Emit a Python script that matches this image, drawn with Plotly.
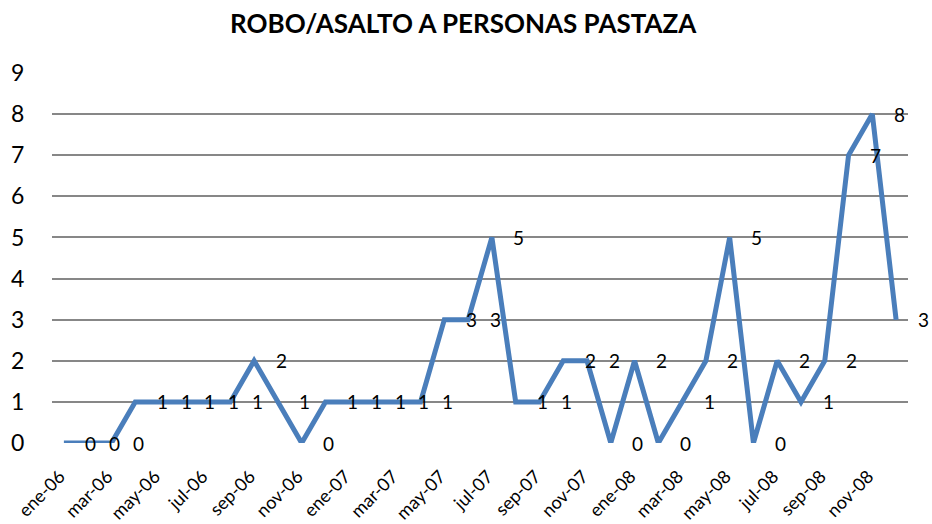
import plotly.graph_objects as go

# Monthly cases, January 2006 through December 2008
months = [
    "ene-06", "feb-06", "mar-06", "abr-06", "may-06", "jun-06",
    "jul-06", "ago-06", "sep-06", "oct-06", "nov-06", "dic-06",
    "ene-07", "feb-07", "mar-07", "abr-07", "may-07", "jun-07",
    "jul-07", "ago-07", "sep-07", "oct-07", "nov-07", "dic-07",
    "ene-08", "feb-08", "mar-08", "abr-08", "may-08", "jun-08",
    "jul-08", "ago-08", "sep-08", "oct-08", "nov-08", "dic-08",
]
cases = [0, 0, 0, 1, 1, 1, 1, 1, 2, 1, 0, 1,
         1, 1, 1, 1, 3, 3, 5, 1, 1, 2, 2, 0,
         2, 0, 1, 2, 5, 0, 2, 1, 2, 7, 8, 3]
y_ticks = list(range(0, 10))
x_ticks = months[::2]

FONT = "Lato, 'Open Sans', sans-serif"
LINE_BLUE = "#4A7EBB"
GRID = "#878787"

fig = go.Figure()
fig.add_trace(go.Scatter(
    x=months, y=cases, mode="lines",
    line=dict(color=LINE_BLUE, width=5),
    hoverinfo="x+y", showlegend=False,
))

# value labels placed to the right of each point
for m, v in zip(months, cases):
    fig.add_annotation(
        x=m, y=v, text=str(v), showarrow=False,
        xanchor="center", yanchor="middle", xshift=27,
        font=dict(family=FONT, size=19, color="#000000"),
    )

fig.update_layout(
    width=932, height=524,
    margin=dict(l=52, r=24, t=73, b=81),
    paper_bgcolor="white", plot_bgcolor="white",
    title=dict(
        text="<b>ROBO/ASALTO A PERSONAS PASTAZA</b>",
        x=0.497, xanchor="center", y=0.955, yanchor="middle",
        font=dict(family=FONT, size=26, color="#000000"),
    ),
    font=dict(family=FONT, color="#000000"),
)
fig.update_xaxes(
    type="category", categoryorder="array", categoryarray=months,
    range=[-0.5, len(months) - 0.5],
    tickmode="array", tickvals=x_ticks, ticktext=x_ticks,
    tickangle=-45, tickfont=dict(family=FONT, size=18, color="#000000"),
    ticks="outside", ticklen=15, tickcolor="rgba(0,0,0,0)",
    ticklabelshift=-4,
    showgrid=False, showline=False, zeroline=False, automargin=False,
)
fig.update_yaxes(
    range=[0, 9], tickmode="array", tickvals=y_ticks,
    tickfont=dict(family=FONT, size=23, color="#000000"),
    ticks="outside", ticklen=22, tickcolor="rgba(0,0,0,0)",
    showgrid=True, gridcolor=GRID, gridwidth=1.5,
    zeroline=False, showline=False, automargin=False,
)

fig.write_html("out.html")
